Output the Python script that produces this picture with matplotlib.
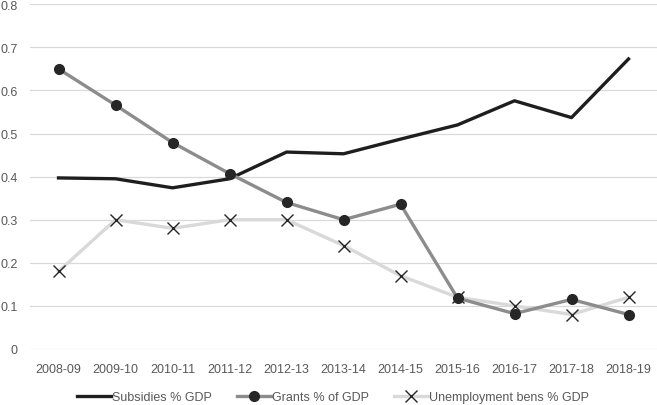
import matplotlib
matplotlib.use("Agg")
import matplotlib.pyplot as plt

years = ["2008-09", "2009-10", "2010-11", "2011-12", "2012-13", "2013-14",
         "2014-15", "2015-16", "2016-17", "2017-18", "2018-19"]
subsidies = [0.397, 0.395, 0.374, 0.395, 0.457, 0.453, 0.487, 0.520, 0.576, 0.537, 0.673]
grants = [0.650, 0.566, 0.479, 0.407, 0.340, 0.300, 0.336, 0.118, 0.082, 0.115, 0.080]
unemployment = [0.18, 0.30, 0.28, 0.30, 0.30, 0.24, 0.17, 0.12, 0.10, 0.08, 0.12]

plt.rcParams['font.family'] = ['Liberation Sans', 'DejaVu Sans']

fig = plt.figure(figsize=(6.57, 4.06), dpi=100)
ax = fig.add_axes([0.0457, 0.138, 0.9543, 0.849])

x = range(len(years))
ax.plot(x, subsidies, color='#1e1e1e', lw=2.4, label='Subsidies % GDP', zorder=3)
ax.plot(x, grants, color='#8c8c8c', lw=2.4, marker='o', markersize=7,
        markerfacecolor='#262626', markeredgecolor='#262626', label='Grants % of GDP', zorder=3)
ax.plot(x, unemployment, color='#d9d9d9', lw=2.4, marker='x', markersize=9,
        markeredgecolor='#262626', markeredgewidth=1.0, label='Unemployment bens % GDP', zorder=2)

ax.set_xlim(-0.5, len(years) - 0.5)
ax.set_ylim(0, 0.8)
ax.set_xticks(list(x))
ax.set_xticklabels(years)
ax.set_yticks([0, 0.1, 0.2, 0.3, 0.4, 0.5, 0.6, 0.7, 0.8])
ax.set_yticklabels(['0', '0.1', '0.2', '0.3', '0.4', '0.5', '0.6', '0.7', '0.8'])
ax.grid(axis='y', color='#d9d9d9', lw=0.9)
ax.set_axisbelow(True)
for s in ax.spines.values():
    s.set_visible(False)
ax.tick_params(length=0, colors='#595959', labelsize=9)
ax.tick_params(axis='x', pad=10)
ax.tick_params(axis='y', pad=9)

ax.legend(loc='center', bbox_to_anchor=(0.483, -0.140), ncol=3, frameon=False,
          fontsize=9, labelcolor='#595959', handlelength=2.7, handletextpad=0.1,
          columnspacing=2.0, borderpad=0.1)

fig.savefig("out.png", dpi=100)
